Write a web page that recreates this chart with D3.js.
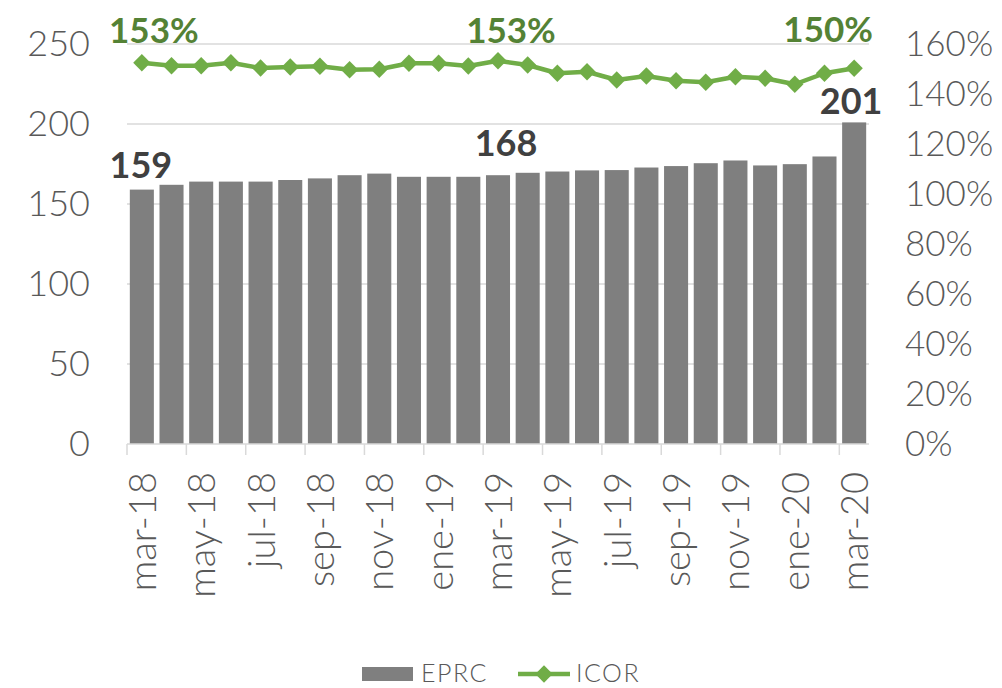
<!DOCTYPE html>
<html>
<head>
<meta charset="utf-8">
<script src="https://cdn.jsdelivr.net/npm/d3@7"></script>
<style>
  body { margin: 0; background: #fff; }
  text { font-family: Lato, "Open Sans", sans-serif; }
</style>
</head>
<body>
<div id="chart"></div>
<script>
const months = [
  "mar-18", "abr-18", "may-18", "jun-18", "jul-18", "ago-18", "sep-18", "oct-18", "nov-18", "dic-18",
  "ene-19", "feb-19", "mar-19", "abr-19", "may-19", "jun-19", "jul-19", "ago-19", "sep-19", "oct-19",
  "nov-19", "dic-19", "ene-20", "feb-20", "mar-20"
];
const eprc = [159, 162, 164, 164, 164, 165, 166, 168, 169, 167, 167, 167, 168, 169.5, 170.3, 171, 171.2, 172.8, 173.7, 175.5, 177.2, 174.1, 174.9, 179.7, 201];
const icor = [152.5, 151.3, 151.3, 152.5, 150.4, 150.8, 151.1, 149.7, 149.9, 152.3, 152.3, 151.2, 153.3, 151.6, 148.3, 148.9, 145.6, 147.2, 145.3, 144.7, 146.9, 146.3, 143.9, 148.3, 150.3];
const leftTicks = [0, 50, 100, 150, 200, 250];
const rightTicks = [0, 20, 40, 60, 80, 100, 120, 140, 160];
const labelledMonths = ["mar-18", "mar-19", "mar-20"];

const WIDTH = 1002, HEIGHT = 688;
const PLOT = { left: 127, right: 869, top: 44, bottom: 444 };
const BAR_COLOR = "#7f7f7f", LINE_COLOR = "#70ad47", LINE_LABEL = "#548235";
const GRID = "#d9d9d9", AXIS_TEXT = "#595959";

// hand placement of the data labels, like the original
const barLabelShift = { "mar-18": [-1, -12], "mar-19": [8, -19], "mar-20": [-3, -8] };
const lineLabelShift = { "mar-18": [12, -20], "mar-19": [13, -18], "mar-20": [-26, -26] };

const svg = d3.select("#chart").append("svg")
  .attr("width", WIDTH).attr("height", HEIGHT);

const x = d3.scaleBand().domain(months)
  .range([PLOT.left, PLOT.right])
  .paddingInner(0.19).paddingOuter(0.095);
const yL = d3.scaleLinear().domain([0, 250]).range([PLOT.bottom, PLOT.top]);
const yR = d3.scaleLinear().domain([0, 160]).range([PLOT.bottom, PLOT.top]);
const cx = (m) => x(m) + x.bandwidth() / 2;

// gridlines
svg.append("g").selectAll("line").data(leftTicks.filter((t) => t > 0)).join("line")
  .attr("x1", PLOT.left).attr("x2", PLOT.right)
  .attr("y1", (d) => yL(d)).attr("y2", (d) => yL(d))
  .attr("stroke", GRID).attr("stroke-width", 1.5);

// left axis
const leftAxis = svg.append("g")
  .attr("transform", `translate(${PLOT.left - 37},0)`)
  .call(d3.axisLeft(yL).tickValues(leftTicks).tickSize(0).tickPadding(0));
leftAxis.select(".domain").remove();
leftAxis.selectAll("text").attr("font-size", 36).attr("font-weight", 300).attr("fill", AXIS_TEXT);

// right axis
const rightAxis = svg.append("g")
  .attr("transform", `translate(${PLOT.right + 36},0)`)
  .call(d3.axisRight(yR).tickValues(rightTicks).tickSize(0).tickPadding(0).tickFormat((d) => d + "%"));
rightAxis.select(".domain").remove();
rightAxis.selectAll("text").attr("font-size", 35).attr("font-weight", 300).attr("fill", AXIS_TEXT);

// bars
svg.append("g").selectAll("rect").data(months).join("rect")
  .attr("x", (m) => x(m))
  .attr("y", (m, i) => yL(eprc[i]))
  .attr("width", x.bandwidth())
  .attr("height", (m, i) => PLOT.bottom - yL(eprc[i]))
  .attr("fill", BAR_COLOR);

// category axis
svg.append("line")
  .attr("x1", PLOT.left).attr("x2", PLOT.right)
  .attr("y1", PLOT.bottom).attr("y2", PLOT.bottom)
  .attr("stroke", GRID).attr("stroke-width", 1.5);

const gap = x.step() * x.paddingInner() / 2;
const shown = months.filter((m, i) => i % 2 === 0);
svg.append("g").selectAll("line").data(shown).join("line")
  .attr("x1", (m) => x(m) - gap).attr("x2", (m) => x(m) - gap)
  .attr("y1", PLOT.bottom).attr("y2", PLOT.bottom + 11)
  .attr("stroke", GRID).attr("stroke-width", 1.5);

svg.append("g").selectAll("text").data(shown).join("text")
  .attr("transform", (m) => `translate(${cx(m) + 14},${PLOT.bottom + 28}) rotate(-90)`)
  .attr("text-anchor", "end")
  .attr("font-size", 38)
  .attr("font-weight", 300)
  .attr("fill", AXIS_TEXT)
  .text((m) => m);

// ICOR line
const line = d3.line().x((m) => cx(m)).y((m, i) => yR(icor[i]));
svg.append("path").datum(months)
  .attr("d", line)
  .attr("fill", "none")
  .attr("stroke", LINE_COLOR)
  .attr("stroke-width", 4.5)
  .attr("stroke-linejoin", "round");

const diamond = d3.symbol().type(d3.symbolSquare).size(150);
svg.append("g").selectAll("path").data(months).join("path")
  .attr("d", diamond)
  .attr("transform", (m, i) => `translate(${cx(m)},${yR(icor[i])}) rotate(45)`)
  .attr("fill", LINE_COLOR);

// data labels
const idx = (m) => months.indexOf(m);
svg.append("g").selectAll("text").data(labelledMonths).join("text")
  .attr("x", (m) => cx(m) + barLabelShift[m][0])
  .attr("y", (m) => yL(eprc[idx(m)]) + barLabelShift[m][1])
  .attr("text-anchor", "middle")
  .attr("font-size", 36).attr("font-weight", "bold")
  .attr("fill", "#404040")
  .text((m) => Math.round(eprc[idx(m)]));

svg.append("g").selectAll("text").data(labelledMonths).join("text")
  .attr("x", (m) => cx(m) + lineLabelShift[m][0])
  .attr("y", (m) => yR(icor[idx(m)]) + lineLabelShift[m][1])
  .attr("text-anchor", "middle")
  .attr("font-size", 35).attr("font-weight", "bold")
  .attr("fill", LINE_LABEL)
  .text((m) => Math.round(icor[idx(m)]) + "%");

// legend
const legend = svg.append("g").attr("transform", "translate(362,667)");
legend.append("rect").attr("width", 51).attr("height", 14).attr("fill", BAR_COLOR);
legend.append("text").attr("x", 59).attr("y", 15)
  .attr("font-size", 25).attr("font-weight", 300).attr("letter-spacing", 1.5)
  .attr("fill", AXIS_TEXT).text("EPRC");
legend.append("line").attr("x1", 156).attr("x2", 208).attr("y1", 7).attr("y2", 7)
  .attr("stroke", LINE_COLOR).attr("stroke-width", 4.5);
legend.append("path").attr("d", diamond)
  .attr("transform", "translate(182,7) rotate(45)")
  .attr("fill", LINE_COLOR);
legend.append("text").attr("x", 214).attr("y", 15)
  .attr("font-size", 25).attr("font-weight", 300).attr("letter-spacing", 1.5)
  .attr("fill", AXIS_TEXT).text("ICOR");
</script>
</body>
</html>
